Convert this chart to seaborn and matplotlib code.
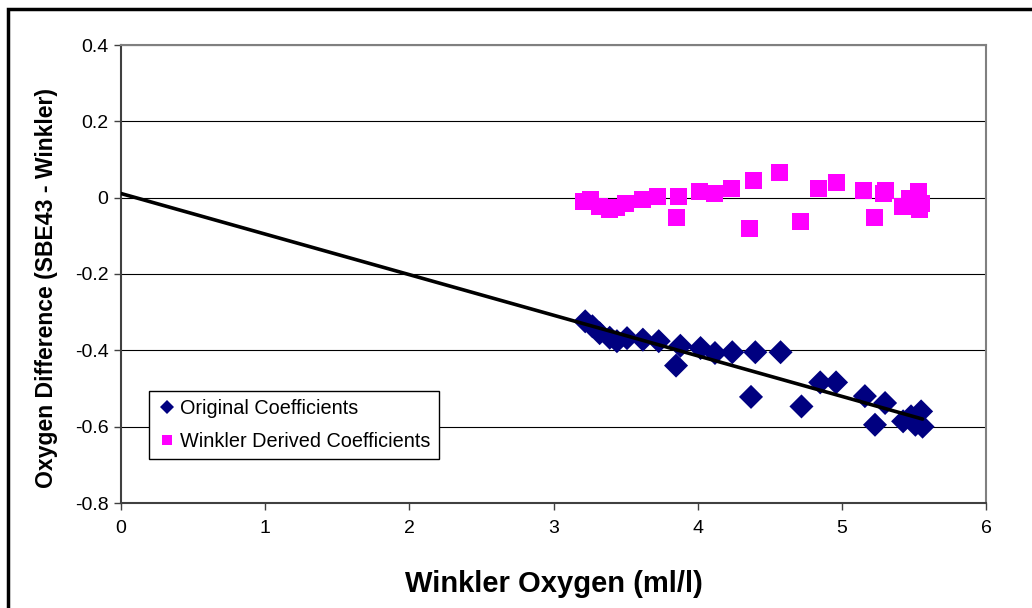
import matplotlib
matplotlib.use("Agg")
import matplotlib.pyplot as plt
from matplotlib.patches import Rectangle
from matplotlib.ticker import FuncFormatter
import numpy as np
import pandas as pd
import seaborn as sns

# ---- data ----
orig_x = [3.22, 3.27, 3.32, 3.39, 3.44, 3.51, 3.62, 3.73, 3.85, 3.88, 4.02, 4.12, 4.24,
          4.37, 4.40, 4.575, 4.72, 4.85, 4.96, 5.16, 5.23, 5.30, 5.425, 5.48, 5.51, 5.55, 5.56]
orig_y = [-0.324, -0.337, -0.355, -0.367, -0.376, -0.368, -0.372, -0.376, -0.44, -0.388, -0.394,
          -0.407, -0.405, -0.522, -0.405, -0.405, -0.547, -0.484, -0.484, -0.52, -0.595, -0.538,
          -0.586, -0.573, -0.595, -0.56, -0.60]

wink_x = [3.21, 3.26, 3.32, 3.39, 3.44, 3.50, 3.615, 3.72, 3.85, 3.87, 4.015, 4.12, 4.235,
          4.36, 4.39, 4.57, 4.71, 4.84, 4.96, 5.15, 5.23, 5.29, 5.30, 5.42, 5.47, 5.535, 5.54, 5.55]
wink_y = [-0.010, -0.005, -0.023, -0.030, -0.027, -0.014, -0.005, 0.002, -0.053, 0.002, 0.015,
          0.010, 0.025, -0.081, 0.045, 0.065, -0.062, 0.025, 0.040, 0.019, -0.053, 0.012, 0.020,
          -0.023, -0.003, 0.017, -0.031, -0.014]

series_names = ["Original Coefficients", "Winkler Derived Coefficients"]
x_ticks = [0, 1, 2, 3, 4, 5, 6]
y_ticks = [-0.8, -0.6, -0.4, -0.2, 0, 0.2, 0.4]
x_label = "Winkler Oxygen (ml/l)"
y_label = "Oxygen Difference (SBE43 - Winkler)"

df = pd.DataFrame({
    "x": orig_x + wink_x,
    "y": orig_y + wink_y,
    "series": [series_names[0]] * len(orig_x) + [series_names[1]] * len(wink_x),
})

# ---- style ----
sns.set_style("white")
plt.rcParams["font.family"] = ["Liberation Sans", "DejaVu Sans"]
plt.rcParams["text.color"] = "black"
plt.rcParams["axes.labelcolor"] = "black"
plt.rcParams["xtick.color"] = "black"
plt.rcParams["ytick.color"] = "black"

fig = plt.figure(figsize=(10.32, 6.08), dpi=100)
ax = fig.add_axes([121 / 1032, 1 - 503 / 608, 865 / 1032, 458 / 608])

# gridlines
for yv in y_ticks[1:]:
    ax.axhline(yv, color="black", lw=0.8, zorder=0)

sns.scatterplot(data=df, x="x", y="y", hue="series", style="series",
                hue_order=series_names, style_order=series_names,
                palette={series_names[0]: "#000080", series_names[1]: "#FF00FF"},
                markers={series_names[0]: "D", series_names[1]: "s"},
                s=150, linewidth=0, ax=ax, zorder=3, legend=True)

# linear trend of original coefficients, extended back to 0
slope, intercept = np.polyfit(orig_x, orig_y, 1)
xt = np.array([0, max(orig_x)])
ax.plot(xt, intercept + slope * xt, color="black", lw=2.6, zorder=4)

ax.set_xlim(0, 6)
ax.set_ylim(-0.8, 0.4)
ax.set_xticks(x_ticks)
ax.set_yticks(y_ticks)
ax.yaxis.set_major_formatter(FuncFormatter(lambda v, p: f"{v:g}"))
ax.tick_params(axis="both", labelsize=14, direction="out", length=5, width=1,
               color="#404040", labelcolor="black", left=True, bottom=True)
ax.tick_params(axis="x", pad=7)
ax.tick_params(axis="y", pad=4)

for side in ["left", "bottom"]:
    ax.spines[side].set_color("#404040")
    ax.spines[side].set_linewidth(1.5)
for side in ["top", "right"]:
    ax.spines[side].set_color("#808080")
    ax.spines[side].set_linewidth(1.5)

ax.set_xlabel(x_label, fontsize=21, fontweight="bold", labelpad=24, color="black")
ax.set_ylabel(y_label, fontsize=16.6, fontweight="bold", labelpad=12, color="black")
ax.yaxis.label.set_y(0.47)

leg = ax.legend(loc="lower left", bbox_to_anchor=(0.032, 0.096), borderaxespad=0,
                fontsize=14.3, frameon=True, fancybox=False, framealpha=1,
                edgecolor="black", markerscale=0.55, handletextpad=0.2,
                handlelength=1.0, borderpad=0.4, labelspacing=0.7)
leg.get_frame().set_linewidth(1.0)
for t in leg.get_texts():
    t.set_color("black")

# outer chart border
fig.patches.append(Rectangle((8 / 1032, -0.05), 1.1, 1 - 9 / 608 + 0.05,
                             transform=fig.transFigure, fill=False,
                             edgecolor="black", lw=2.5, clip_on=False))

fig.savefig("out.png", dpi=100)
